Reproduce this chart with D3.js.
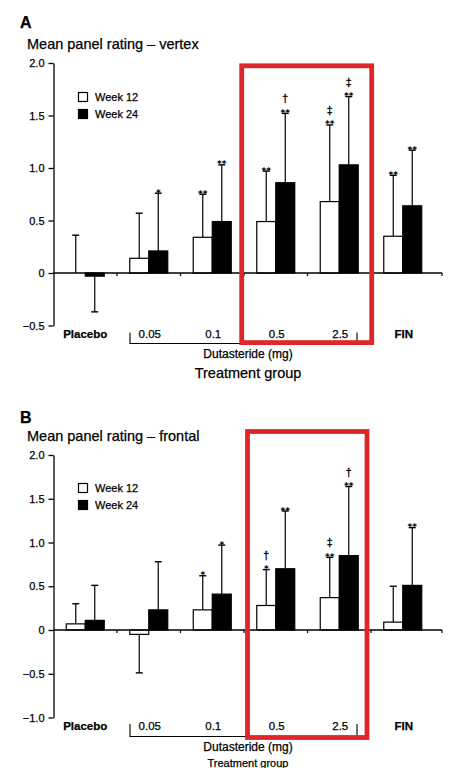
<!DOCTYPE html>
<html>
<head>
<meta charset="utf-8">
<script src="https://cdn.jsdelivr.net/npm/d3@7"></script>
<style>
  html, body { margin: 0; padding: 0; background: #fff; }
  svg { display: block; }
  text { font-family: "Liberation Sans", Arial, sans-serif; fill: #000; stroke: #000; stroke-width: 0.25; }
  text.sym { font-family: "DejaVu Sans", sans-serif; stroke: none; }
  text.dag { font-family: "Liberation Sans", Arial, sans-serif; stroke: #000; stroke-width: 0.35; }
</style>
</head>
<body>
<svg id="chart" width="455" height="768"></svg>
<script>
// ---------- data ----------
const categories = ["Placebo", "0.05", "0.1", "0.5", "2.5", "FIN"];
const series = ["Week 12", "Week 24"];
const yTicksA = [-0.5, 0, 0.5, 1.0, 1.5, 2.0];
const yTicksB = [-1.0, -0.5, 0, 0.5, 1.0, 1.5, 2.0];

// Panel A: vertex
const vertexW12 = [0.00, 0.14, 0.34, 0.49, 0.68, 0.35];
const vertexW12Err = [0.36, 0.57, 0.75, 0.97, 1.41, 0.93];
const vertexW24 = [-0.03, 0.21, 0.49, 0.86, 1.03, 0.64];
const vertexW24Err = [-0.37, 0.76, 1.03, 1.52, 1.68, 1.17];
const vertexSig12 = ["", "", "**", "**", "**", "**"];
const vertexSig24 = ["", "*", "**", "**", "**", "**"];
const vertexDag12 = ["", "", "", "", "‡", ""];
const vertexDag24 = ["", "", "", "†", "‡", ""];

// Panel B: frontal
const frontalW12 = [0.07, -0.05, 0.23, 0.28, 0.37, 0.09];
const frontalW12Err = [0.30, -0.49, 0.62, 0.69, 0.83, 0.50];
const frontalW24 = [0.11, 0.23, 0.41, 0.70, 0.85, 0.51];
const frontalW24Err = [0.51, 0.78, 0.97, 1.36, 1.64, 1.17];
const frontalSig12 = ["", "", "*", "*", "**", ""];
const frontalSig24 = ["", "", "*", "**", "**", "**"];
const frontalDag12 = ["", "", "", "†", "‡", ""];
const frontalDag24 = ["", "", "", "", "†", ""];

const svg = d3.select("#chart");

const x = d3.scaleBand().domain(categories).range([53.5, 434.5]).padding(0);
const barW = 19;
const xs = d3.scaleBand().domain(series).range([-barW, barW]).padding(0);

function panel(cfg) {
  const g = svg.append("g");
  const y = d3.scaleLinear().domain(cfg.domain).range(cfg.range);

  // panel letter and title
  g.append("text").attr("x", 20).attr("y", cfg.letterY)
    .attr("font-size", 16).attr("font-weight", "bold").text(cfg.letter);
  g.append("text").attr("x", 27).attr("y", cfg.titleY)
    .attr("font-size", 14.5).text(cfg.title);

  // y axis
  const yAxis = d3.axisLeft(y).tickValues(cfg.ticks).tickSize(5).tickSizeOuter(0)
    .tickFormat(d => d === 0 ? "0" : d3.format(".1f")(d).replace("-", "\u2212"));
  const ya = g.append("g").attr("transform", "translate(53.5,0)").call(yAxis);
  ya.select(".domain").attr("stroke", "#000").attr("stroke-width", 1.3);
  ya.selectAll(".tick line").attr("stroke", "#000").attr("stroke-width", 1.3);
  ya.selectAll(".tick text").attr("font-size", 11).attr("x", -9)
    .attr("font-family", "Liberation Sans, Arial, sans-serif").attr("fill", "#000");

  const rows = categories.map((c, i) => ({
    c,
    bars: [
      { s: series[0], v: cfg.w12[i], e: cfg.w12Err[i], sig: cfg.sig12[i], dag: cfg.dag12[i] },
      { s: series[1], v: cfg.w24[i], e: cfg.w24Err[i], sig: cfg.sig24[i], dag: cfg.dag24[i] }
    ]
  }));
  const bars = rows.flatMap(r => r.bars.map(b => Object.assign({ c: r.c }, b)));
  const cx = d => x(d.c) + x.bandwidth() / 2 + xs(d.s) + xs.bandwidth() / 2;

  // error bars
  g.selectAll(".err").data(bars).enter().append("line")
    .attr("x1", cx).attr("x2", cx)
    .attr("y1", d => y(d.v)).attr("y2", d => y(d.e))
    .attr("stroke", "#000").attr("stroke-width", 1.2);
  g.selectAll(".cap").data(bars).enter().append("line")
    .attr("x1", d => cx(d) - 3.5).attr("x2", d => cx(d) + 3.5)
    .attr("y1", d => y(d.e)).attr("y2", d => y(d.e))
    .attr("stroke", "#000").attr("stroke-width", 1.4);

  // bars
  g.selectAll(".bar").data(bars).enter().append("rect")
    .attr("x", d => x(d.c) + x.bandwidth() / 2 + xs(d.s))
    .attr("width", xs.bandwidth())
    .attr("y", d => Math.min(y(d.v), y(0)))
    .attr("height", d => Math.abs(y(d.v) - y(0)))
    .attr("fill", d => d.s === series[0] ? "#fff" : "#000")
    .attr("stroke", "#000").attr("stroke-width", 1.2);

  // x axis line at zero with band-boundary ticks
  const y0 = y(0);
  g.append("line").attr("x1", 53.5).attr("x2", 442).attr("y1", y0).attr("y2", y0)
    .attr("stroke", "#000").attr("stroke-width", 1.3);
  const bounds = categories.slice(1).map(c => x(c)).concat([442]);
  g.selectAll(".xt").data(bounds).enter().append("line")
    .attr("x1", d => d).attr("x2", d => d).attr("y1", y0).attr("y2", y0 + 3)
    .attr("stroke", "#000").attr("stroke-width", 1.2);

  // significance marks
  g.selectAll(".sig").data(bars.filter(d => d.sig)).enter().append("text")
    .attr("class", "sym")
    .attr("x", cx).attr("y", d => y(d.e) + 2.5)
    .attr("text-anchor", "middle").attr("font-size", 9).attr("font-weight", "bold")
    .text(d => d.sig);
  g.selectAll(".dag").data(bars.filter(d => d.dag)).enter().append("text")
    .attr("class", "dag")
    .attr("x", cx).attr("y", d => y(d.e) - (d.sig ? 11 : 3))
    .attr("text-anchor", "middle").attr("font-size", 10.5)
    .text(d => d.dag);

  // category labels
  g.selectAll(".cat").data(categories).enter().append("text")
    .attr("x", d => x(d) + x.bandwidth() / 2 + (d === "Placebo" ? 0 : 1))
    .attr("y", cfg.catY)
    .attr("text-anchor", "middle").attr("font-size", 11.5)
    .attr("font-weight", d => (d === "Placebo" || d === "FIN") ? "bold" : "normal")
    .text(d => d);

  // bracket for Dutasteride
  const bx1 = x("0.05") + 13, bx2 = x("2.5") + x.bandwidth() - 14;
  g.append("path")
    .attr("d", `M${bx1},${cfg.brTop}V${cfg.brBot}H${bx2}V${cfg.brTop}`)
    .attr("fill", "none").attr("stroke", "#000").attr("stroke-width", 1.1);
  g.append("text").attr("x", 248).attr("y", cfg.dutY)
    .attr("text-anchor", "middle").attr("font-size", 12).text("Dutasteride (mg)");
  g.append("text").attr("x", 248).attr("y", cfg.tgY)
    .attr("text-anchor", "middle").attr("font-size", cfg.tgSize).text("Treatment group");

  // legend
  const lg = g.append("g");
  series.forEach((s, i) => {
    lg.append("rect").attr("x", 78.5).attr("y", cfg.legY + i * 17).attr("width", 9).attr("height", 9)
      .attr("fill", i === 0 ? "#fff" : "#000").attr("stroke", "#000").attr("stroke-width", 1.2);
    lg.append("text").attr("x", 95).attr("y", cfg.legY + i * 17 + 8.5)
      .attr("font-size", 11).text(s);
  });

  // red highlight box
  g.append("rect").attr("x", cfg.box[0]).attr("y", cfg.box[1])
    .attr("width", cfg.box[2] - cfg.box[0]).attr("height", cfg.box[3] - cfg.box[1])
    .attr("fill", "none").attr("stroke", "#e0252b").attr("stroke-width", 4.8);
}

panel({
  letter: "A", letterY: 28, title: "Mean panel rating \u2013 vertex", titleY: 49,
  domain: [-0.5, 2], range: [325.5, 63], ticks: yTicksA,
  w12: vertexW12, w12Err: vertexW12Err, w24: vertexW24, w24Err: vertexW24Err,
  sig12: vertexSig12, sig24: vertexSig24, dag12: vertexDag12, dag24: vertexDag24,
  catY: 338, brTop: 332.5, brBot: 343.5, dutY: 358, tgY: 378, tgSize: 14.5, legY: 92.5,
  box: [241.7, 65.8, 371.7, 342.6]
});

panel({
  letter: "B", letterY: 423, title: "Mean panel rating \u2013 frontal", titleY: 441,
  domain: [-1, 2], range: [717.5, 455], ticks: yTicksB,
  w12: frontalW12, w12Err: frontalW12Err, w24: frontalW24, w24Err: frontalW24Err,
  sig12: frontalSig12, sig24: frontalSig24, dag12: frontalDag12, dag24: frontalDag24,
  catY: 730, brTop: 724, brBot: 736.5, dutY: 750.5, tgY: 766.5, tgSize: 11, legY: 483.5,
  box: [247.5, 431.5, 367, 737.5]
});
</script>
</body>
</html>
